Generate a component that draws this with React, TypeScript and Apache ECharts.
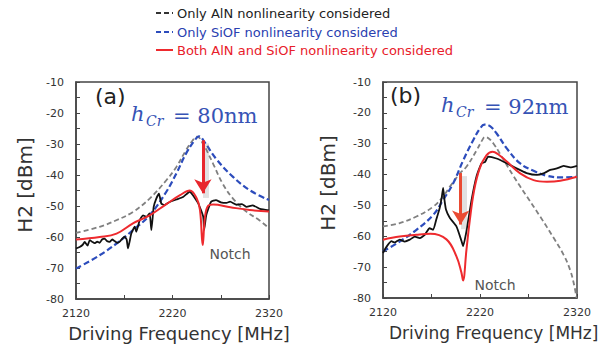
import React, { useEffect, useRef } from "react";
import * as echarts from "echarts";

const X0 = 2120; // axis start frequency (MHz)
const xTickLabels = [2120, 2220, 2320];
const yTickLabels = [-80, -70, -60, -50, -40, -30, -20, -10];

const legendNames = [
  "Only AlN nonlinearity considered",
  "Only SiOF nonlinearity considered",
  "Both AlN and SiOF nonlinearity considered",
];

// Panel (a): hCr = 80nm
const aAln: [number, number][] = [
  [2120, -58.7], [2144.5, -56.7], [2161.8, -54.6], [2179, -51.9], [2196.3, -47.6],
  [2213.6, -41.7], [2224, -37.4], [2234, -32], [2241, -28.8], [2245.5, -27.6],
  [2251.6, -29.9], [2262, -36.3], [2272, -42.8], [2282.7, -47.6], [2296.5, -51.8],
  [2310, -54.6], [2320, -57.2],
];
const aSiof: [number, number][] = [
  [2120, -70.2], [2144.5, -65.9], [2162, -62.1], [2179, -57.8], [2196.3, -53],
  [2213.6, -45.4], [2224, -39.5], [2234, -33.1], [2243, -28.8], [2247.5, -27.5],
  [2253, -29.3], [2265, -34.7], [2282.7, -40.6], [2300, -44.9], [2320, -48.1],
];
const aBoth: [number, number][] = [
  [2120, -60.8], [2144.5, -60], [2162, -58.9], [2179, -55.6], [2196.3, -53],
  [2213.6, -49.4], [2227.8, -46.5], [2238, -45], [2245, -47.5], [2248.5, -51.3],
  [2251.3, -62.6], [2253.7, -53.4], [2257, -49.9], [2262, -49.5], [2280, -50.4],
  [2300, -51.3], [2320, -51.8],
];
const aMeasured: [number, number][] = [
  [2120, -63.7], [2123.8, -63.2], [2127, -62.5], [2129, -61.6], [2132, -62.8],
  [2134.2, -61.0], [2137, -61.6], [2139.3, -62.0], [2142, -61.5], [2144.5, -61.9],
  [2147, -60.8], [2149.7, -60.5], [2152, -61.3], [2154.9, -61.6], [2157.5, -60.8],
  [2160, -61.3], [2163, -61.9], [2165.3, -61.5], [2168, -60.5], [2170.4, -59.9],
  [2172.5, -60.8], [2173.9, -63.7], [2177.3, -58.9], [2180.8, -56.7], [2182.5, -58.3],
  [2186, -54.6], [2189.4, -53.0], [2192.9, -53.5], [2196.3, -52.4], [2198.1, -57.8],
  [2200.5, -50.3], [2203.2, -47.6], [2206, -46.0], [2208.4, -49.2], [2211.9, -49.7],
  [2217, -48.7], [2224, -47.9], [2230.9, -47.1], [2237.8, -45.4], [2246.4, -49.0],
  [2251.8, -53.4], [2252.8, -57.7], [2255, -52.9], [2260, -48.6], [2265, -48.1],
  [2270, -48.8], [2276, -49.0], [2279.6, -48.6], [2286.5, -49.6], [2292, -49.4],
  [2296.8, -50.3], [2303, -49.8], [2310.7, -50.9], [2320, -51.4],
];

// Panel (b): hCr = 92nm
const bAln: [number, number][] = [
  [2120, -56.8], [2137.2, -55.7], [2154.5, -53.6], [2171.7, -50.4], [2182, -47.1],
  [2189, -43.9], [2199.3, -39.6], [2206.2, -37.4], [2216.6, -32.1], [2222, -29],
  [2225.2, -27.8], [2229, -28.3], [2234, -30], [2240.7, -33.3], [2254.5, -40.5],
  [2268.3, -47.1], [2282, -53.6], [2295.9, -60.5], [2306.2, -66], [2313, -71],
  [2317.2, -76], [2319.5, -80],
];
const bSiof: [number, number][] = [
  [2120, -64.9], [2137.2, -61.7], [2154.5, -57.9], [2171.7, -53.1], [2182, -48.2],
  [2192.4, -42.8], [2202.8, -35.3], [2213.1, -28.8], [2220, -25.1], [2224.5, -23.8],
  [2230.3, -24.3], [2237.2, -26.7], [2247.6, -31.5], [2261.4, -36.4], [2275.2, -38.8],
  [2289, -40.4], [2302.8, -40.9], [2320, -40.7],
];
const bBoth: [number, number][] = [
  [2120, -61.1], [2137.2, -60.1], [2154.5, -59.5], [2168.7, -59.2], [2185.4, -61],
  [2195.7, -66.5], [2200.8, -71.7], [2202.5, -74.3], [2206, -64.5], [2209.4, -55],
  [2214, -45], [2219.7, -38], [2226.6, -33.8], [2233, -32.6], [2239, -33.5],
  [2247.6, -35.8], [2261.4, -39.6], [2275.2, -41.8], [2289, -42.3], [2302.8, -42],
  [2320, -40.7],
];
const bMeasured: [number, number][] = [
  [2120, -65.4], [2122.8, -63.8], [2125.2, -62.7], [2128.6, -61.6], [2132, -62],
  [2137.2, -61.1], [2142.4, -61.7], [2147.6, -61.1], [2152.8, -60.1], [2157.9, -60.6],
  [2163.1, -59.5], [2168, -57.4], [2171.7, -57.9], [2175, -54.5], [2178.5, -50.8],
  [2180.5, -47.5], [2182, -44.3], [2183.5, -48.5], [2185, -51.4], [2188.8, -54],
  [2195.7, -56.8], [2201, -61.6], [2202.6, -63.2], [2206, -58.4], [2211.3, -48.2],
  [2216.4, -40.6], [2221.6, -36.3], [2225, -36], [2228.4, -34.2], [2237, -34.8],
  [2247.4, -36.3], [2257.7, -38], [2268, -39.5], [2278.6, -40.1], [2285.5, -39.6],
  [2292.4, -38.5], [2299.3, -38], [2306.2, -37.2], [2313.1, -37.7], [2320, -37.2],
];

// Arrow annotations (freq, from dBm, to dBm)
const arrowA = { freq: 2251.5, from: -28.8, to: -45.9 };
const arrowB = { freq: 2200.1, from: -39.5, to: -56.2 };

const COLORS = {
  aln: "#808080",
  siof: "#2c4cbc",
  both: "#ee2a2e",
  meas: "#111111",
  arrowA: "#e8262c",
  arrowB: "#ea4a32",
  text: "#333333",
  blueText: "#3653b5",
};
const FONT = "DejaVu Sans";

const toData = (pts: [number, number][]) => pts.map(([f, v]) => [f - X0, v]);

function yAxis(gridIndex: number) {
  return {
    type: "value",
    gridIndex,
    min: -80,
    max: -10,
    interval: 5,
    axisLine: { show: true, lineStyle: { color: "#444", width: 1.5 } },
    axisTick: { show: true, inside: true, length: 4, lineStyle: { color: "#444" } },
    axisLabel: {
      fontSize: 11,
      color: COLORS.text,
      margin: 12,
      fontFamily: FONT,
      formatter: (v: number) => (yTickLabels.includes(v) ? String(v) : ""),
    },
    splitLine: { show: false },
  };
}
function xAxis(gridIndex: number) {
  return {
    type: "value",
    gridIndex,
    min: 0,
    max: 200,
    interval: 50,
    axisLine: { show: true, lineStyle: { color: "#444", width: 1.5 } },
    axisTick: { show: true, inside: true, length: 4, lineStyle: { color: "#444" } },
    axisLabel: {
      fontSize: 11,
      color: COLORS.text,
      margin: 9,
      fontFamily: FONT,
      formatter: (v: number) => (xTickLabels.includes(v + X0) ? String(v + X0) : ""),
    },
    splitLine: { show: false },
  };
}

function panelSeries(
  idx: number,
  aln: [number, number][],
  siof: [number, number][],
  both: [number, number][],
  meas: [number, number][],
  arrow: { freq: number; from: number; to: number },
  arrowColor: string
) {
  const common = { type: "line", xAxisIndex: idx, yAxisIndex: idx, showSymbol: false, symbol: "none", silent: true };
  return [
    { ...common, name: legendNames[0], data: toData(aln), smooth: 0.4,
      lineStyle: { color: COLORS.aln, width: 1.8, type: [5, 3] } },
    { ...common, name: legendNames[1], data: toData(siof), smooth: 0.4,
      lineStyle: { color: COLORS.siof, width: 2.2, type: [6, 3] } },
    { ...common, name: "measured", data: toData(meas), smooth: 0.15,
      lineStyle: { color: COLORS.meas, width: 1.8 } },
    { ...common, name: legendNames[2], data: toData(both), smooth: 0.4,
      lineStyle: { color: COLORS.both, width: 2 },
      markLine: {
        silent: true,
        animation: false,
        label: { show: false },
        symbol: ["none", "arrow"],
        symbolSize: [13, 14],
        data: [
          [
            { coord: [arrow.freq - X0 + 3, arrow.from - 1], symbol: "none",
              lineStyle: { color: "rgba(120,120,120,0.22)", width: 6, type: "solid" } },
            { coord: [arrow.freq - X0 + 3, arrow.to - 1.5], symbol: "none" },
          ],
          [
            { coord: [arrow.freq - X0, arrow.from], symbol: "none",
              lineStyle: { color: arrowColor, width: 3, type: "solid" } },
            { coord: [arrow.freq - X0, arrow.to], symbol: "arrow" },
          ],
        ],
      },
    },
  ];
}

function txt(x: number, y: number, text: string, size: number, fill: string, extra: any = {}) {
  return {
    type: "text",
    x,
    y,
    silent: true,
    ...extra.el,
    style: {
      text,
      fontSize: size,
      fontFamily: extra.family || FONT,
      fontStyle: extra.italic ? "italic" : "normal",
      fill,
      textAlign: extra.align || "left",
      textVerticalAlign: "middle",
    },
  };
}

export default function App() {
  const ref = useRef<HTMLDivElement>(null);
  useEffect(() => {
    if (!ref.current) return;
    const chart = echarts.init(ref.current, undefined, { renderer: "svg" });
    const serif = "DejaVu Serif";
    const legendY = [13, 32, 50];
    const option: any = {
      animation: false,
      backgroundColor: "#ffffff",
      grid: [
        { left: 76, top: 82, width: 193, height: 217, show: true, borderColor: "#444", borderWidth: 1.5, backgroundColor: "transparent" },
        { left: 383, top: 82, width: 194, height: 216, show: true, borderColor: "#444", borderWidth: 1.5, backgroundColor: "transparent" },
      ],
      xAxis: [xAxis(0), xAxis(1)],
      yAxis: [yAxis(0), yAxis(1)],
      series: [
        ...panelSeries(0, aAln, aSiof, aBoth, aMeasured, arrowA, COLORS.arrowA),
        ...panelSeries(1, bAln, bSiof, bBoth, bMeasured, arrowB, COLORS.arrowB),
      ],
      graphic: [
        // legend
        { type: "line", silent: true, shape: { x1: 156, y1: legendY[0], x2: 173, y2: legendY[0] },
          style: { stroke: "#333", lineWidth: 2, lineDash: [5, 3] } },
        { type: "line", silent: true, shape: { x1: 156, y1: legendY[1], x2: 173, y2: legendY[1] },
          style: { stroke: COLORS.siof, lineWidth: 2, lineDash: [5, 3] } },
        { type: "line", silent: true, shape: { x1: 156, y1: legendY[2], x2: 173, y2: legendY[2] },
          style: { stroke: COLORS.both, lineWidth: 2 } },
        txt(177, legendY[0], legendNames[0], 13, "#222"),
        txt(177, legendY[1], legendNames[1], 13, "#2a40b0"),
        txt(177, legendY[2], legendNames[2], 13, "#e8202a"),
        // panel labels
        txt(95, 96, "(a)", 22, "#222"),
        txt(390, 95, "(b)", 22, "#222"),
        // hCr annotations
        txt(131, 114, "h", 21, COLORS.blueText, { family: serif, italic: true }),
        txt(146, 121, "Cr", 14, COLORS.blueText, { family: serif, italic: true }),
        txt(173, 116, "= 80nm", 21, COLORS.blueText, { family: serif }),
        txt(441, 105, "h", 21, COLORS.blueText, { family: serif, italic: true }),
        txt(456, 112, "Cr", 14, COLORS.blueText, { family: serif, italic: true }),
        txt(484, 107, "= 92nm", 21, COLORS.blueText, { family: serif }),
        // notch labels
        txt(230, 254, "Notch", 14, "#555", { align: "center" }),
        txt(495, 285, "Notch", 14, "#555", { align: "center" }),
        // axis titles
        txt(179, 333, "Driving Frequency [MHz]", 18, COLORS.text, { align: "center" }),
        txt(389, 333, "Driving Frequency [MHz]", 17, COLORS.text, { align: "left" }),
        txt(25, 185, "H2 [dBm]", 20, COLORS.text, { align: "center", el: { rotation: Math.PI / 2 } }),
        txt(328, 183, "H2 [dBm]", 20, COLORS.text, { align: "center", el: { rotation: Math.PI / 2 } }),
      ],
    };
    chart.setOption(option);
    return () => chart.dispose();
  }, []);
  return (
    <div
      ref={ref}
      style={{ position: "absolute", left: 0, top: 0, width: 603, height: 347, background: "#fff" }}
    />
  );
}
